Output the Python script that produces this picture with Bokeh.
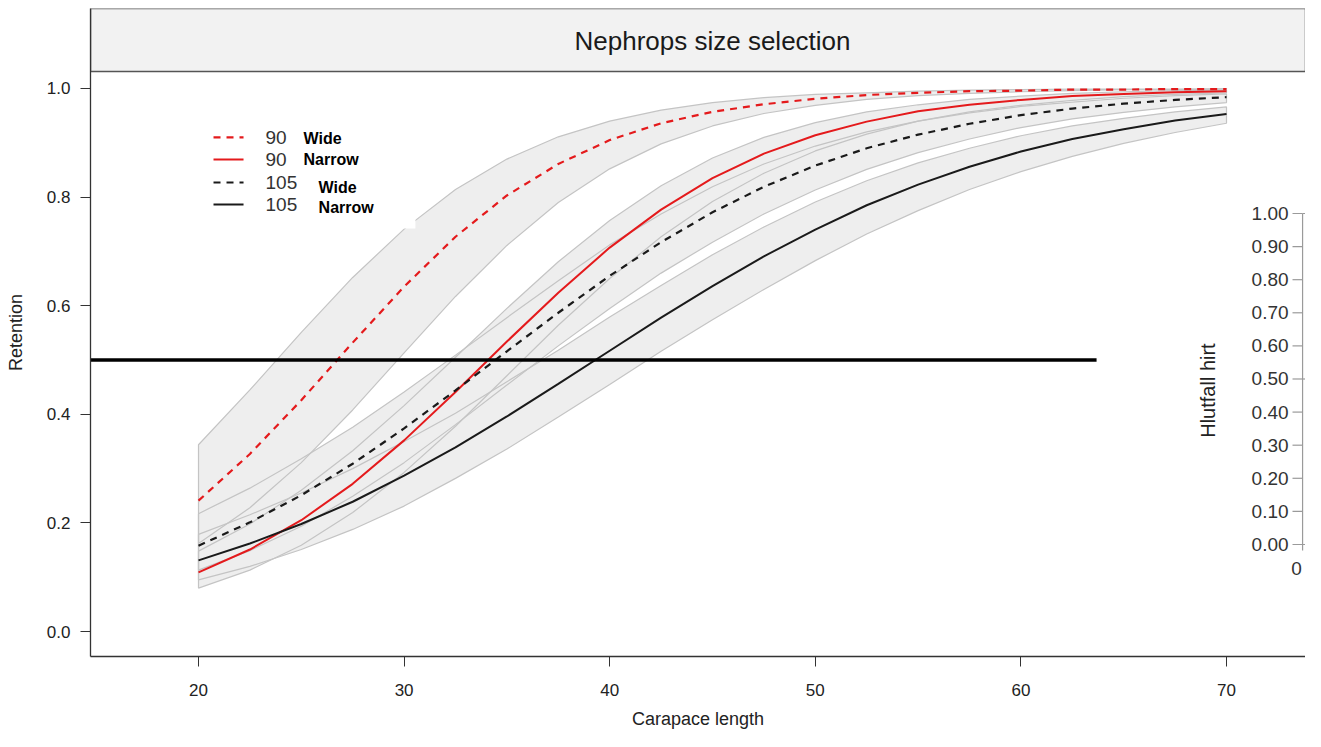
from math import pi
from bokeh.plotting import figure
from bokeh.models import Range1d, FixedTicker, PrintfTickFormatter
from bokeh.core.properties import value
from bokeh.embed import file_html
from bokeh.resources import INLINE

# ---------------- data ----------------
carapace = [20.0, 22.5, 25.0, 27.5, 30.0, 32.5, 35.0, 37.5, 40.0, 42.5, 45.0,
            47.5, 50.0, 52.5, 55.0, 57.5, 60.0, 62.5, 65.0, 67.5, 70.0]

ret_90_wide = [0.241, 0.327, 0.426, 0.532, 0.635, 0.727, 0.803, 0.861, 0.905, 0.936, 0.957,
               0.971, 0.981, 0.988, 0.992, 0.995, 0.996, 0.998, 0.998, 0.999, 0.999]
lo_90_wide = [0.162, 0.228, 0.311, 0.408, 0.513, 0.617, 0.711, 0.790, 0.852, 0.898, 0.931,
              0.954, 0.969, 0.980, 0.987, 0.991, 0.994, 0.996, 0.998, 0.998, 0.999]
hi_90_wide = [0.344, 0.445, 0.551, 0.652, 0.741, 0.814, 0.870, 0.911, 0.940, 0.960, 0.974,
              0.983, 0.989, 0.992, 0.995, 0.997, 0.998, 0.999, 0.999, 0.999, 1.000]

ret_90_narrow = [0.109, 0.151, 0.205, 0.272, 0.352, 0.441, 0.534, 0.624, 0.707, 0.777, 0.835,
                 0.880, 0.914, 0.939, 0.958, 0.970, 0.979, 0.986, 0.990, 0.993, 0.995]
hi_90_narrow = [0.148, 0.198, 0.260, 0.333, 0.416, 0.505, 0.595, 0.681, 0.757, 0.821, 0.872,
                0.910, 0.937, 0.957, 0.970, 0.980, 0.986, 0.991, 0.994, 0.996, 0.997]
lo_90_narrow = [0.080, 0.113, 0.159, 0.219, 0.293, 0.378, 0.471, 0.564, 0.650, 0.727, 0.792,
                0.844, 0.885, 0.916, 0.940, 0.957, 0.969, 0.978, 0.985, 0.989, 0.992]

ret_105_wide = [0.158, 0.201, 0.251, 0.309, 0.374, 0.444, 0.516, 0.587, 0.655, 0.717, 0.772,
                0.819, 0.858, 0.890, 0.915, 0.935, 0.951, 0.963, 0.972, 0.979, 0.984]
hi_105_wide = [0.217, 0.264, 0.318, 0.376, 0.441, 0.509, 0.578, 0.646, 0.712, 0.769, 0.819,
               0.861, 0.894, 0.920, 0.940, 0.955, 0.967, 0.975, 0.982, 0.987, 0.990]
lo_105_wide = [0.113, 0.149, 0.194, 0.249, 0.311, 0.381, 0.454, 0.526, 0.595, 0.660, 0.717,
               0.769, 0.813, 0.851, 0.882, 0.907, 0.928, 0.944, 0.956, 0.966, 0.974]

ret_105_narrow = [0.131, 0.162, 0.198, 0.239, 0.287, 0.339, 0.396, 0.456, 0.517, 0.578, 0.636,
                  0.691, 0.740, 0.785, 0.823, 0.856, 0.884, 0.907, 0.925, 0.941, 0.953]
hi_105_narrow = [0.179, 0.215, 0.255, 0.300, 0.350, 0.402, 0.460, 0.518, 0.579, 0.637, 0.694,
                 0.745, 0.791, 0.830, 0.863, 0.890, 0.913, 0.931, 0.945, 0.957, 0.966]
lo_105_narrow = [0.095, 0.120, 0.151, 0.188, 0.231, 0.282, 0.336, 0.395, 0.455, 0.516, 0.574,
                 0.630, 0.683, 0.732, 0.775, 0.814, 0.847, 0.875, 0.899, 0.919, 0.936]

reference_level = 0.5
x_ticks = [20, 30, 40, 50, 60, 70]
y_ticks = [0.0, 0.2, 0.4, 0.6, 0.8, 1.0]

legend_mesh = ["90", "90", "105", "105"]
legend_panel = ["Wide", "Narrow", "Wide", "Narrow"]

inset_ticks = [0.0, 0.1, 0.2, 0.3, 0.4, 0.5, 0.6, 0.7, 0.8, 0.9, 1.0]
inset_tick_labels = ["0.00", "0.10", "0.20", "0.30", "0.40", "0.50",
                     "0.60", "0.70", "0.80", "0.90", "1.00"]
inset_x_label = "0"
inset_title = "Hlutfall hirt"
title_text = "Nephrops size selection"

# ---------------- figure ----------------
FONT = value("Liberation Sans")
RED = "#e41a1c"
BLACK = "#1a1a1a"

X0, X1 = 14.747, 73.842
Y0, Y1 = -0.046, 1.1473

p = figure(width=1305, height=731, output_backend="svg", toolbar_location=None,
           x_range=Range1d(X0, X1), y_range=Range1d(Y0, Y1),
           min_border_left=90, min_border_right=0, min_border_top=8, min_border_bottom=75)
p.extra_y_ranges = {"inset": Range1d(-0.3384, 1.6193)}
p.xgrid.visible = False
p.ygrid.visible = False
p.outline_line_color = None
p.background_fill_color = "white"
p.border_fill_color = "white"

for ax in (p.xaxis[0], p.yaxis[0]):
    ax.axis_line_color = "#333333"
    ax.axis_line_width = 1.3
    ax.major_tick_line_color = "#333333"
    ax.major_tick_out = 10
    ax.major_tick_in = 0
    ax.minor_tick_line_color = None
    ax.major_label_text_font = "Liberation Sans"
    ax.major_label_text_font_size = "17px"
    ax.major_label_text_color = "#222222"
    ax.axis_label_text_font = "Liberation Sans"
    ax.axis_label_text_font_size = "18px"
    ax.axis_label_text_font_style = "normal"
    ax.axis_label_text_color = "#222222"

p.xaxis.ticker = FixedTicker(ticks=x_ticks)
p.yaxis.ticker = FixedTicker(ticks=y_ticks)
p.yaxis.formatter = PrintfTickFormatter(format="%.1f")
p.xaxis.axis_label = "Carapace length"
p.yaxis.axis_label = "Retention"
p.xaxis.major_label_standoff = 17
p.yaxis.major_label_standoff = 10
p.xaxis.axis_label_standoff = 10
p.yaxis.axis_label_standoff = 18

# title strip
p.quad(left=[X0], right=[X1], bottom=[1.0313], top=[Y1], fill_color="#f2f2f2",
       line_color="#555555", line_width=1.5)
p.text(x=[45.0], y=[1.0866], text=[title_text], text_font=FONT, text_font_size="26px",
       text_align="center", text_baseline="middle", text_color="#1a1a1a")

# confidence bands
bands = [(lo_90_wide, hi_90_wide), (lo_90_narrow, hi_90_narrow),
         (lo_105_wide, hi_105_wide), (lo_105_narrow, hi_105_narrow)]
xs = [carapace + carapace[::-1] for _ in bands]
ys = [hi + lo[::-1] for lo, hi in bands]
p.patches(xs=xs, ys=ys, fill_color="#eeeeee", fill_alpha=1.0, line_color=None)
p.patches(xs=xs, ys=ys, fill_alpha=0.0, line_color="#c4c4c4", line_width=1.2)

# curves
p.line(carapace, ret_90_wide, line_color=RED, line_width=2.2, line_dash="7 6")
p.line(carapace, ret_90_narrow, line_color=RED, line_width=2.0)
p.line(carapace, ret_105_wide, line_color=BLACK, line_width=2.2, line_dash="7 6")
p.line(carapace, ret_105_narrow, line_color=BLACK, line_width=2.0)

# 50% reference line
p.line([X0, 63.68], [reference_level, reference_level], line_color="black", line_width=3.5)

# legend
ly = [0.9098, 0.8692, 0.8269, 0.7864]
lcol = [RED, RED, BLACK, BLACK]
ldash = ["7 6", "solid", "7 6", "solid"]
for yy, cc, dd in zip(ly, lcol, ldash):
    p.line([20.73, 22.19], [yy, yy], line_color=cc, line_width=2.2, line_dash=dd)
p.text(x=[23.26] * 4, y=ly, text=legend_mesh, text_font=FONT, text_font_size="19px",
       text_align="left", text_baseline="middle", text_color="#333333")
p.quad(left=[25.06], right=[30.55], bottom=[0.7422], top=[0.930], fill_color="white",
       line_color=None)
p.text(x=[25.11, 25.11, 25.84, 25.84], y=[0.9079, 0.8692, 0.8177, 0.7808], text=legend_panel,
       text_font=FONT, text_font_size="16px", text_font_style="bold",
       text_align="left", text_baseline="middle", text_color="black")

# inset axis (right)
IG = "#9a9a9a"
p.line([73.70, 73.70], [-0.018, 1.0], y_range_name="inset", line_color=IG, line_width=1.2)
p.segment(x0=[73.21] * len(inset_ticks), y0=inset_ticks, x1=[73.70] * len(inset_ticks),
          y1=inset_ticks, y_range_name="inset", line_color=IG, line_width=1.2)
p.segment(x0=[73.70] * 3, y0=[0.0, 0.5, 1.0], x1=[X1] * 3, y1=[0.0, 0.5, 1.0],
          y_range_name="inset", line_color=IG, line_width=1.2)
p.text(x=[73.02] * len(inset_ticks), y=inset_ticks, text=inset_tick_labels,
       y_range_name="inset", text_font=FONT, text_font_size="19px",
       text_align="right", text_baseline="middle", text_color="#333333")
p.text(x=[73.40], y=[-0.0725], text=[inset_x_label], y_range_name="inset", text_font=FONT,
       text_font_size="19px", text_align="center", text_baseline="middle", text_color="#333333")
p.text(x=[69.08], y=[0.465], text=[inset_title], y_range_name="inset", angle=pi / 2,
       text_font=FONT, text_font_size="20px", text_align="center", text_baseline="middle",
       text_color="#222222")

open("out.html", "w").write(file_html(p, INLINE))
